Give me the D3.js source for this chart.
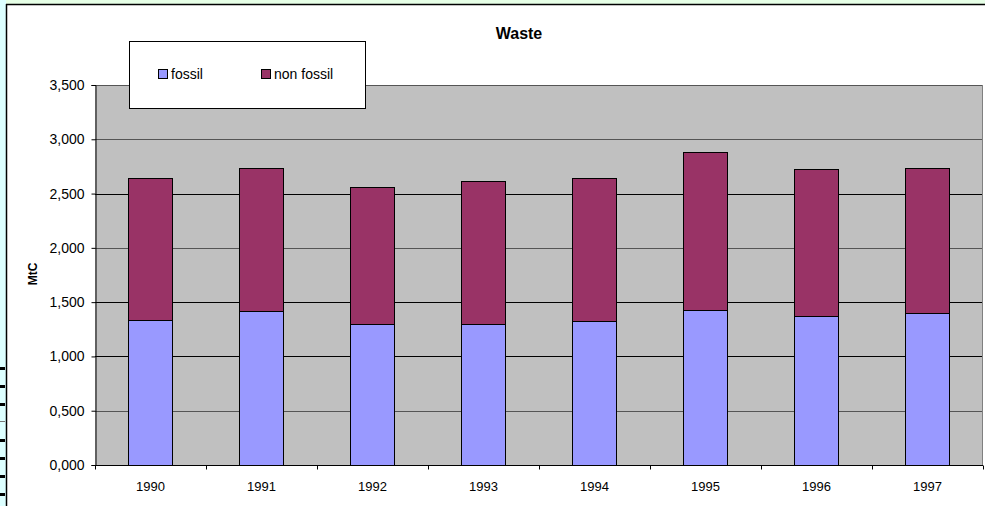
<!DOCTYPE html>
<html><head><meta charset="utf-8">
<script src="https://cdn.jsdelivr.net/npm/d3@7"></script>
<style>html,body{margin:0;padding:0;overflow:hidden;background:#fff}</style>
</head><body>
<svg id="c" width="985" height="506"></svg>
<script>
const categories = ["1990","1991","1992","1993","1994","1995","1996","1997"];
const fossil = [1336, 1423, 1301, 1301, 1326, 1425, 1375, 1397];
const nonFossil = [1305, 1316, 1262, 1314, 1314, 1459, 1351, 1341];
const tickValues = [0, 500, 1000, 1500, 2000, 2500, 3000, 3500];
const tickLabels = ["0,000","0,500","1,000","1,500","2,000","2,500","3,000","3,500"];
const seriesNames = ["fossil","non fossil"];
const colors = ["#9999ff","#993366"];

const svg = d3.select("#c");
const F = "Arial, 'Liberation Sans', sans-serif";

// background decoration
svg.append("rect").attr("x",0).attr("y",0).attr("width",985).attr("height",506).attr("fill","#fff");
svg.append("rect").attr("x",0).attr("y",0).attr("width",985).attr("height",5).attr("fill","#e6ffe6");
svg.append("rect").attr("x",0).attr("y",0).attr("width",6).attr("height",506).attr("fill","#dcffff");
[367,385,403,421,439,457,475,493].forEach((yy,i)=>{
  svg.append("rect").attr("x",0).attr("y",yy).attr("width",5).attr("height",i==3?1:3).attr("fill",i==3?"#777":"#000");
});
svg.append("line").attr("x1",6).attr("x2",985).attr("y1",4.5).attr("y2",4.5).attr("stroke","#000").attr("stroke-width",1.5);
svg.append("line").attr("x1",6.5).attr("x2",6.5).attr("y1",4).attr("y2",506).attr("stroke","#000").attr("stroke-width",1.5);

const L = 95, R = 983, T = 85, B = 465;
const x = d3.scaleBand().domain(categories).range([L, R]).paddingInner(0.6).paddingOuter(0.3);
const xb = d3.scaleBand().domain(categories).range([L, R]);
const y = d3.scaleLinear().domain([0, 3500]).range([B, T]);

svg.append("rect").attr("x",L).attr("y",T).attr("width",R-L).attr("height",B-T).attr("fill","#c0c0c0");

// gridlines
svg.selectAll(".g").data(tickValues.slice(1)).enter().append("line")
  .attr("x1",L).attr("x2",R).attr("y1",d=>Math.round(y(d))+0.5).attr("y2",d=>Math.round(y(d))+0.5)
  .attr("stroke",d=> (d===3500||d===3000||d===2000||d===500)?"#555":"#000").attr("stroke-width",1);
svg.append("line").attr("x1",R-0.5).attr("x2",R-0.5).attr("y1",T).attr("y2",B).attr("stroke","#808080");

// bars
const stack = categories.map((c,i)=>({c, f:fossil[i], n:nonFossil[i]}));
const g = svg.append("g");
stack.forEach(d=>{
  const bx = Math.round(x(d.c))+0.5, bw = Math.round(x.bandwidth());
  g.append("rect").attr("x",bx).attr("width",bw)
    .attr("y",Math.round(y(d.f+d.n))+0.5).attr("height",Math.round(y(d.f))-Math.round(y(d.f+d.n)))
    .attr("fill",colors[1]).attr("stroke","#000").attr("stroke-width",1);
  g.append("rect").attr("x",bx).attr("width",bw)
    .attr("y",Math.round(y(d.f))+0.5).attr("height",Math.round(y(0))-Math.round(y(d.f)))
    .attr("fill",colors[0]).attr("stroke","#000").attr("stroke-width",1);
});

// y axis
const ya = svg.append("g").attr("transform",`translate(${L+0.5},0)`)
  .call(d3.axisLeft(y).tickValues(tickValues).tickFormat((d,i)=>tickLabels[i]).tickSize(4).tickPadding(7));
ya.select(".domain").attr("stroke","#000");
ya.selectAll(".tick line").attr("stroke","#000");
ya.selectAll("text").attr("font-family",F).attr("font-size","14px").attr("fill","#000");

// x axis
const xa = svg.append("g").attr("transform",`translate(0,${B+0.5})`);
xa.append("line").attr("x1",L).attr("x2",R).attr("stroke","#000");
categories.concat(["end"]).forEach((c,i)=>{
  const xx = Math.round(L + i*xb.step())+0.5;
  xa.append("line").attr("x1",xx).attr("x2",xx).attr("y1",0).attr("y2",4).attr("stroke","#000");
});
xa.selectAll("text").data(categories).enter().append("text")
  .attr("x",d=>xb(d)+xb.bandwidth()/2).attr("y",25).attr("text-anchor","middle")
  .attr("font-family",F).attr("font-size","13px").text(d=>d);

// title
svg.append("text").attr("x",519).attr("y",39).attr("text-anchor","middle")
  .attr("font-family",F).attr("font-size","16px").attr("font-weight","bold").text("Waste");
// y label
svg.append("text").attr("transform","translate(37,274) rotate(-90)").attr("text-anchor","middle")
  .attr("font-family",F).attr("font-size","12px").attr("font-weight","bold").text("MtC");

// legend
svg.append("rect").attr("x",129.5).attr("y",41.5).attr("width",236).attr("height",67)
  .attr("fill","#fff").attr("stroke","#000");
const lg = [{x:158, tx:171},{x:261, tx:274}];
seriesNames.forEach((n,i)=>{
  svg.append("rect").attr("x",lg[i].x+0.5).attr("y",69.5).attr("width",9).attr("height",9)
    .attr("fill",colors[i]).attr("stroke","#000");
  svg.append("text").attr("x",lg[i].tx).attr("y",78.5).attr("font-family",F).attr("font-size","14px").text(n);
});
</script>
</body></html>
